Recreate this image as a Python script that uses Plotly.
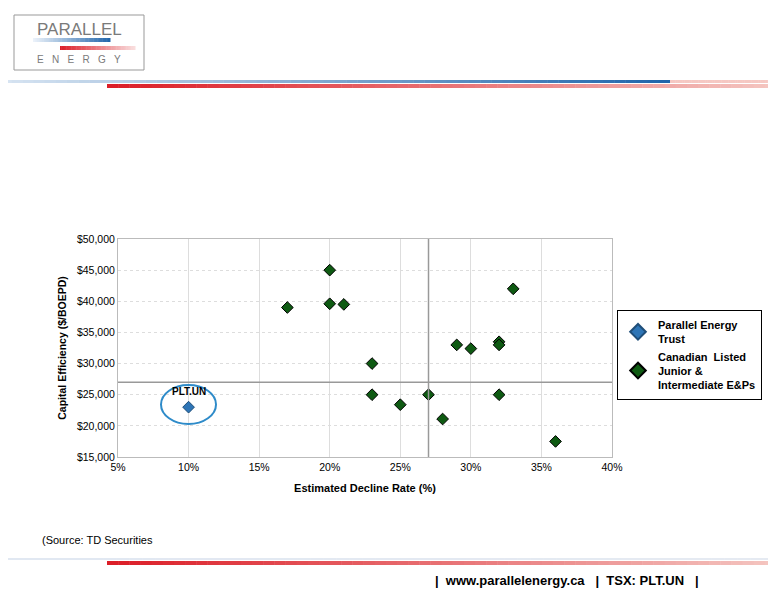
import plotly.graph_objects as go

# peer group data
peer_decline = [17, 20, 20, 21, 23, 23, 25, 27, 28, 29, 30, 32, 32, 32, 33, 36]
peer_eff = [39000, 45000, 39600, 39500, 30000, 25000, 23400, 25000, 21100,
            33000, 32400, 33500, 33000, 25000, 42000, 17500]
plt_decline = [10]
plt_eff = [23000]
avg_decline = 27
avg_eff = 27000

W, H = 776, 600
OFF = 8  # page body margin
L, R, T, B = 118, 612, 239, 457


def px(x):
    return (x - L) / (R - L)


def py(y):
    return (B - y) / (B - T)


def lerp(c1, c2, t):
    return "rgb(%d,%d,%d)" % tuple(int(a + (b - a) * t) for a, b in zip(c1, c2))


fig = go.Figure()
fig.add_trace(go.Scatter(
    x=plt_decline, y=plt_eff, mode="markers", name="<b>Parallel Energy<br>Trust</b>",
    marker=dict(symbol="diamond", size=9, color="#2e75b6", line=dict(color="#1f4e79", width=1))))
fig.add_trace(go.Scatter(
    x=peer_decline, y=peer_eff, mode="markers", name="<b>Canadian  Listed<br>Junior &<br>Intermediate E&Ps</b>",
    marker=dict(symbol="diamond", size=9, color="#0e5a12", line=dict(color="#000", width=1))))

shapes = [
    dict(type="line", xref="x", yref="paper", x0=avg_decline, x1=avg_decline, y0=0, y1=1,
         line=dict(color="#999", width=1.5)),
    dict(type="line", xref="paper", yref="y", x0=0, x1=1, y0=avg_eff, y1=avg_eff,
         line=dict(color="#999", width=1.5)),
    dict(type="circle", xref="paper", yref="paper", x0=px(161), x1=px(216), y0=py(424), y1=py(385),
         line=dict(color="#2e8bc9", width=2)),
    # logo box
    dict(type="rect", xref="paper", yref="paper", x0=px(14), x1=px(144), y0=py(70), y1=py(15),
         line=dict(color="#999", width=1), fillcolor="white"),
]

# gradient bars
n = 60
def grad(x0, x1, y0, y1, c1, c2):
    for i in range(n):
        a = x0 + (x1 - x0) * i / n
        b = x0 + (x1 - x0) * (i + 1) / n
        shapes.append(dict(type="rect", xref="paper", yref="paper", x0=px(a), x1=px(b) + 0.001,
                           y0=py(y1), y1=py(y0), line=dict(width=0), fillcolor=lerp(c1, c2, i / n)))

blue_l, blue = (215, 228, 242), (30, 100, 170)
red, pink = (220, 30, 40), (245, 200, 195)
grad(0, 670, 80, 83, blue_l, blue)
grad(670, 776, 80, 83, pink, pink)
grad(107, 776, 84, 88, red, pink)
grad(0, 776, 558, 560, (225, 232, 242), (230, 235, 242))
grad(107, 776, 561, 565, red, pink)
# logo stripes
grad(33, 110, 38, 42, (235, 242, 250), blue)
grad(60, 135, 46, 50, red, (250, 225, 225))

annotations = [
    dict(x=10, y=23000, xref="x", yref="y", text="<b>PLT.UN</b>", showarrow=False, yshift=16,
         font=dict(size=10, color="#000")),
    dict(x=px(79), y=py(29), xref="paper", yref="paper", xanchor="center", yanchor="middle", text="PARALLEL",
         showarrow=False, font=dict(size=17, color="#7a7a7a", family="Arial")),
    dict(x=px(79), y=py(59), xref="paper", yref="paper", xanchor="center", yanchor="middle",
         text="E   N   E   R   G   Y", showarrow=False, font=dict(size=10, color="#7a7a7a", family="Arial")),
    dict(x=px(40), y=py(540), xref="paper", yref="paper", xanchor="left", yanchor="middle",
         text="(Source: TD Securities", showarrow=False, font=dict(size=11, color="#000")),
    dict(x=px(433), y=py(580), xref="paper", yref="paper", xanchor="left", yanchor="middle",
         text="<b>|  www.parallelenergy.ca   |  TSX: PLT.UN   |</b>",
         showarrow=False, font=dict(size=13, color="#000")),
]

fig.update_layout(
    width=W, height=H, margin=dict(l=L - OFF, r=W - R + OFF, t=T - OFF, b=H - B + OFF),
    paper_bgcolor="white", plot_bgcolor="white",
    font=dict(family="Arial", size=10.5, color="#000"),
    shapes=shapes, annotations=annotations,
    xaxis=dict(range=[5, 40], dtick=5, ticksuffix="%", showgrid=True, gridcolor="#ddd",
               showline=True, linecolor="#bbb", mirror=True, zeroline=False,
               title=dict(text="<b>Estimated Decline Rate (%)</b>", font=dict(size=11), standoff=12)),
    yaxis=dict(range=[15000, 50000], dtick=5000, tickprefix="$", tickformat=",d", showgrid=True,
               gridcolor="#ddd", griddash="dot", showline=True, linecolor="#bbb", mirror=True, zeroline=False,
               title=dict(text="<b>Capital Efficiency ($/BOEPD)</b>", font=dict(size=10.5), standoff=8)),
    legend=dict(x=px(617), y=py(310), xanchor="left", yanchor="top", bordercolor="#000", borderwidth=1,
                font=dict(size=11, color="#000"), tracegroupgap=8, itemsizing="constant"),
)

fig.write_html("out.html")
